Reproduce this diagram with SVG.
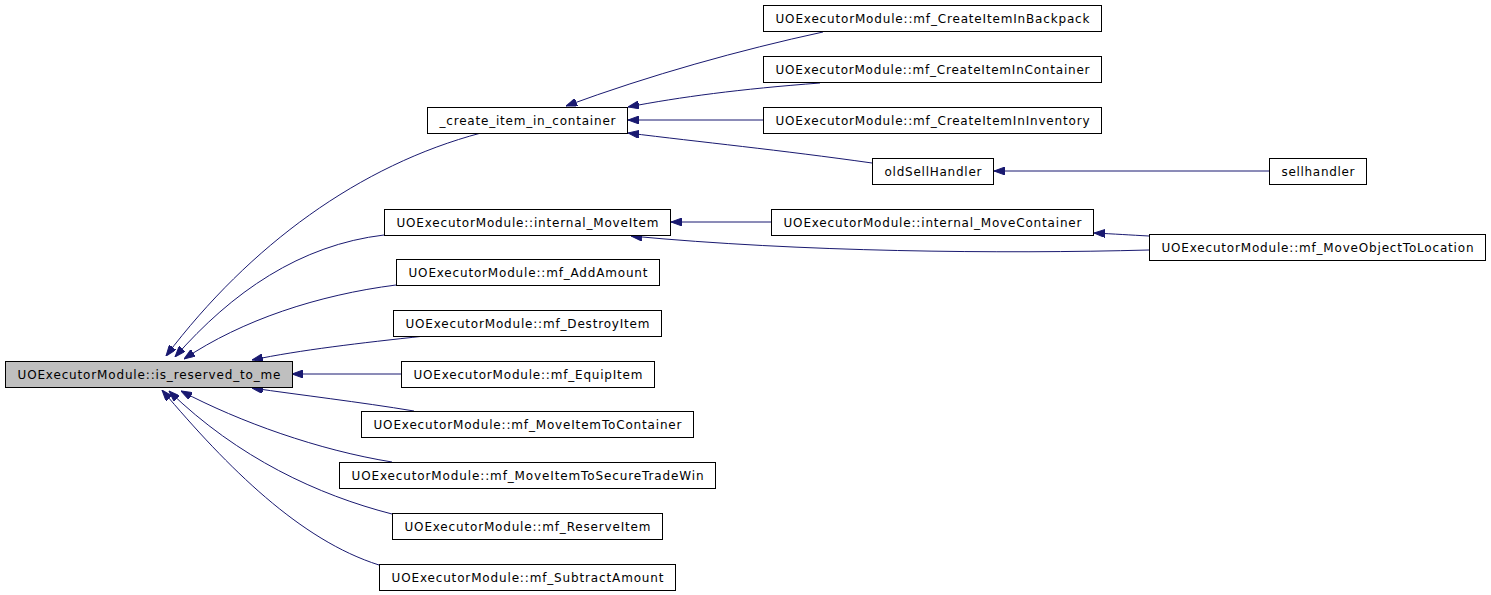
<svg xmlns="http://www.w3.org/2000/svg" width="1491" height="595" viewBox="0 0 1491 595">
<style>
.node rect{fill:#ffffff;stroke:#000000;stroke-width:1}
#n0 rect{fill:#bfbfbf}
.node text{font-family:"DejaVu Sans",sans-serif;font-size:12px;fill:#000000;text-anchor:middle}
.edge{fill:none;stroke:#191970;stroke-width:1;marker-end:url(#arr)}
</style>
<defs>
<marker id="arr" markerUnits="userSpaceOnUse" markerWidth="11" markerHeight="8" viewBox="0 0 11 8" refX="11" refY="4" orient="auto">
<polygon points="0,0 11,4 0,8" fill="#191970" stroke="#191970" stroke-width="1"/>
</marker>
</defs>
<rect width="1491" height="595" fill="#ffffff"/>
<g id="edges">
<path class="edge" d="M481,133 C360,165 250,245 166,356"/>
<path class="edge" d="M384,235 C300,245 232,292 175,357"/>
<path class="edge" d="M396,285 C318,295 242,320 184,359"/>
<path class="edge" d="M425,336 C360,343 300,350 252,360"/>
<path class="edge" d="M401,374 L292,374"/>
<path class="edge" d="M414,411 C360,402 300,395 252,388"/>
<path class="edge" d="M392,462 C318,450 240,422 181,391"/>
<path class="edge" d="M392,514 C318,495 238,458 169,391"/>
<path class="edge" d="M379,565 C300,540 228,468 162,390"/>
<path class="edge" d="M823,32 C740,50 650,75 566,106"/>
<path class="edge" d="M820,83 C740,89 680,97 628,107"/>
<path class="edge" d="M763,120 L628,120"/>
<path class="edge" d="M872,163 C780,150 700,142 628,133"/>
<path class="edge" d="M1269,171 L994,171"/>
<path class="edge" d="M771,222 L671,222"/>
<path class="edge" d="M1149,236 C1130,235 1115,234 1094,233"/>
<path class="edge" d="M1149,250 C1000,254 800,252 631,236"/>
</g>
<g id="n0" class="node"><rect x="5.5" y="361.5" width="287" height="26"/><text x="149" y="378.5" textLength="263" lengthAdjust="spacing">UOExecutorModule::is_reserved_to_me</text></g>
<g id="n1" class="node"><rect x="427.5" y="107.5" width="200" height="26"/><text x="527.5" y="124.5" textLength="176" lengthAdjust="spacing">_create_item_in_container</text></g>
<g id="n2" class="node"><rect x="763.5" y="5.5" width="338" height="26"/><text x="932.5" y="22.5" textLength="314" lengthAdjust="spacing">UOExecutorModule::mf_CreateItemInBackpack</text></g>
<g id="n3" class="node"><rect x="763.5" y="56.5" width="338" height="26"/><text x="932.5" y="73.5" textLength="314" lengthAdjust="spacing">UOExecutorModule::mf_CreateItemInContainer</text></g>
<g id="n4" class="node"><rect x="763.5" y="107.5" width="338" height="26"/><text x="932.5" y="124.5" textLength="314" lengthAdjust="spacing">UOExecutorModule::mf_CreateItemInInventory</text></g>
<g id="n5" class="node"><rect x="872.5" y="158.5" width="121" height="26"/><text x="933" y="175.5" textLength="97" lengthAdjust="spacing">oldSellHandler</text></g>
<g id="n6" class="node"><rect x="1269.5" y="158.5" width="97" height="26"/><text x="1318" y="175.5" textLength="73" lengthAdjust="spacing">sellhandler</text></g>
<g id="n7" class="node"><rect x="384.5" y="209.5" width="286" height="26"/><text x="527.5" y="226.5" textLength="262" lengthAdjust="spacing">UOExecutorModule::internal_MoveItem</text></g>
<g id="n8" class="node"><rect x="771.5" y="209.5" width="322" height="26"/><text x="932.5" y="226.5" textLength="298" lengthAdjust="spacing">UOExecutorModule::internal_MoveContainer</text></g>
<g id="n9" class="node"><rect x="1149.5" y="234.5" width="336" height="26"/><text x="1317.5" y="251.5" textLength="312" lengthAdjust="spacing">UOExecutorModule::mf_MoveObjectToLocation</text></g>
<g id="n10" class="node"><rect x="396.5" y="259.5" width="263" height="26"/><text x="528" y="276.5" textLength="239" lengthAdjust="spacing">UOExecutorModule::mf_AddAmount</text></g>
<g id="n11" class="node"><rect x="393.5" y="310.5" width="268" height="26"/><text x="527.5" y="327.5" textLength="244" lengthAdjust="spacing">UOExecutorModule::mf_DestroyItem</text></g>
<g id="n12" class="node"><rect x="401.5" y="361.5" width="253" height="26"/><text x="528" y="378.5" textLength="229" lengthAdjust="spacing">UOExecutorModule::mf_EquipItem</text></g>
<g id="n13" class="node"><rect x="361.5" y="411.5" width="332" height="26"/><text x="527.5" y="428.5" textLength="308" lengthAdjust="spacing">UOExecutorModule::mf_MoveItemToContainer</text></g>
<g id="n14" class="node"><rect x="339.5" y="462.5" width="376" height="26"/><text x="527.5" y="479.5" textLength="352" lengthAdjust="spacing">UOExecutorModule::mf_MoveItemToSecureTradeWin</text></g>
<g id="n15" class="node"><rect x="392.5" y="513.5" width="270" height="26"/><text x="527.5" y="530.5" textLength="246" lengthAdjust="spacing">UOExecutorModule::mf_ReserveItem</text></g>
<g id="n16" class="node"><rect x="379.5" y="564.5" width="296" height="26"/><text x="527.5" y="581.5" textLength="272" lengthAdjust="spacing">UOExecutorModule::mf_SubtractAmount</text></g>
</svg>
